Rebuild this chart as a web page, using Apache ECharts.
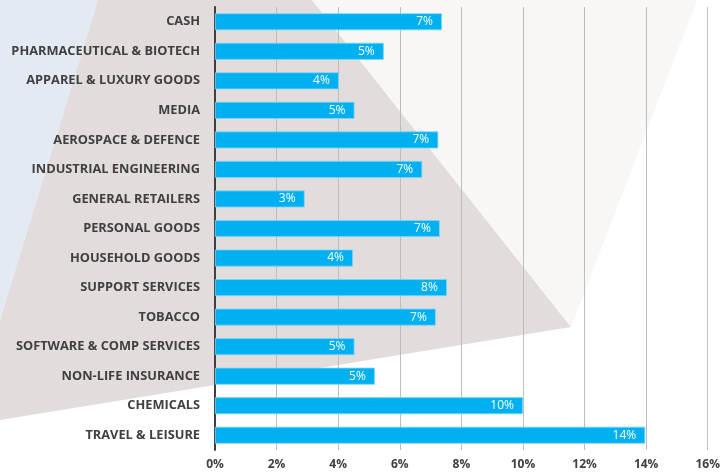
<!DOCTYPE html>
<html>
<head>
<meta charset="utf-8">
<script src="https://cdn.jsdelivr.net/npm/echarts@6/dist/echarts.min.js"></script>
<style>
html,body{margin:0;padding:0;background:#fff;}
#main{width:723px;height:472px;}
</style>
</head>
<body>
<div id="main"></div>
<script>
const categories = ["CASH","PHARMACEUTICAL & BIOTECH","APPAREL & LUXURY GOODS","MEDIA","AEROSPACE & DEFENCE","INDUSTRIAL ENGINEERING","GENERAL RETAILERS","PERSONAL GOODS","HOUSEHOLD GOODS","SUPPORT SERVICES","TOBACCO","SOFTWARE & COMP SERVICES","NON-LIFE INSURANCE","CHEMICALS","TRAVEL & LEISURE"];
const values = [7.37,5.48,4.02,4.53,7.25,6.73,2.91,7.30,4.48,7.53,7.17,4.53,5.19,10.0,13.97];
const axisMin = 0, axisMax = 16, axisStep = 2;

const chart = echarts.init(document.getElementById('main'));
chart.setOption({
  animation:false,
  backgroundColor:'#ffffff',
  graphic:[
    {type:'polygon',z:-10,silent:true,shape:{points:[[0,0],[98,0],[0,320]]},style:{fill:'#e4eaf4'}},
    {type:'polygon',z:-10,silent:true,shape:{points:[[98,0],[312,0],[571,327],[0,420],[0,320]]},style:{fill:'#e2dcdc'}},
    {type:'polygon',z:-10,silent:true,shape:{points:[[312,0],[697,0],[571,327]]},style:{fill:'#f8f7f6'}}
  ],
  grid:{left:215,right:14,top:7,bottom:22,containLabel:false},
  xAxis:{
    type:'value',min:axisMin,max:axisMax,interval:axisStep,
    axisLine:{show:false},axisTick:{show:false},
    splitLine:{show:true,lineStyle:{color:'#bdbdbd',width:1}},
    axisLabel:{formatter:v=>v+'%',color:'#404040',fontFamily:'Open Sans',fontWeight:'bold',fontSize:12,margin:9}
  },
  yAxis:{
    type:'category',data:categories,inverse:true,
    axisLine:{show:true,lineStyle:{color:'#404040',width:2}},
    axisTick:{show:false},
    axisLabel:{color:'#404040',fontFamily:'Open Sans',fontWeight:'bold',fontSize:12.8,margin:15}
  },
  series:[{
    type:'bar',data:values,barWidth:17,
    itemStyle:{color:'#00b0f0',borderColor:'#7fd6f6',borderWidth:0.8},
    label:{show:true,position:'insideRight',distance:9,color:'#ffffff',fontFamily:'Open Sans',fontSize:12,
      formatter:p=>Math.round(p.value)+'%'}
  }]
});
</script>
</body>
</html>
